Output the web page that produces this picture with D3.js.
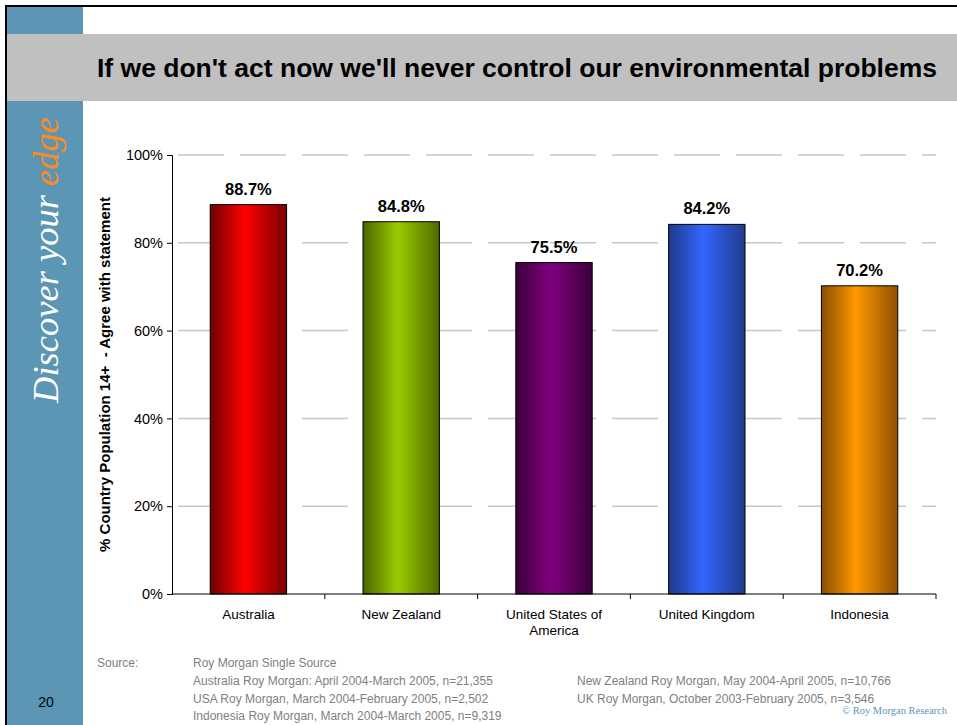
<!DOCTYPE html>
<html>
<head>
<meta charset="utf-8">
<script src="https://cdn.jsdelivr.net/npm/d3@7"></script>
<style>
  html, body { margin: 0; padding: 0; background: #fff; }
  svg { display: block; }
</style>
</head>
<body>
<svg id="slide" width="957" height="725"></svg>
<script>
// Chart data
const countries = ["Australia", "New Zealand", "United States of America", "United Kingdom", "Indonesia"];
const countryLines = [["Australia"], ["New Zealand"], ["United States of", "America"], ["United Kingdom"], ["Indonesia"]];
const agreePct = [88.7, 84.8, 75.5, 84.2, 70.2];
const yTicks = [0, 20, 40, 60, 80, 100];
// Bar colours: [left shade, bright centre, right shade]
const barColors = [
  ["#6e0000", "#ff0000", "#7a0000"],
  ["#4b6400", "#99cc00", "#4f6a00"],
  ["#3a003a", "#800080", "#3c003c"],
  ["#1d3a88", "#3366ff", "#1f3c8c"],
  ["#8a4c00", "#ff9900", "#8e5000"]
];
const sourceLeft = [
  "Roy Morgan Single Source",
  "Australia Roy Morgan: April 2004-March 2005, n=21,355",
  "USA Roy Morgan, March 2004-February 2005, n=2,502",
  "Indonesia Roy Morgan, March 2004-March 2005, n=9,319"
];
const sourceRight = [
  "New Zealand Roy Morgan, May 2004-April 2005, n=10,766",
  "UK Roy Morgan, October 2003-February 2005, n=3,546"
];

const svg = d3.select("#slide");
const W = 957, H = 725;
const blue = "#5b96b4";
const sans = "Liberation Sans, Arial, sans-serif";
const serif = "Liberation Serif, 'Times New Roman', serif";

// Slide frame: sidebar, title band, border
svg.append("rect").attr("x", 7).attr("y", 7).attr("width", 76).attr("height", H - 7).attr("fill", blue);
svg.append("rect").attr("x", 7).attr("y", 34).attr("width", W - 7).attr("height", 67).attr("fill", "#c0c0c0");
svg.append("line").attr("x1", 5).attr("x2", W).attr("y1", 6).attr("y2", 6).attr("stroke", "#000").attr("stroke-width", 2);
svg.append("line").attr("x1", 6).attr("x2", 6).attr("y1", 5).attr("y2", H).attr("stroke", "#000").attr("stroke-width", 2);

svg.append("text")
  .attr("x", 517).attr("y", 77)
  .attr("text-anchor", "middle")
  .attr("font-family", sans)
  .attr("font-weight", "bold").attr("font-size", 26)
  .attr("textLength", 840).attr("lengthAdjust", "spacingAndGlyphs")
  .attr("fill", "#000")
  .text("If we don't act now we'll never control our environmental problems");

// Vertical tagline
const tag = svg.append("text")
  .attr("transform", "translate(58,260) rotate(-90)")
  .attr("text-anchor", "middle")
  .attr("font-family", serif)
  .attr("font-style", "italic").attr("font-size", 36.5);
tag.append("tspan").attr("fill", "#fff").text("Discover your ");
tag.append("tspan").attr("fill", "#ff8a1e").text("edge");

svg.append("text")
  .attr("x", 46).attr("y", 707)
  .attr("text-anchor", "middle")
  .attr("font-family", sans)
  .attr("font-size", 14).attr("fill", "#000")
  .text("20");

// Chart
const plot = { left: 172, right: 936, top: 155, bottom: 594 };
const x = d3.scaleBand().domain(countries).range([plot.left, plot.right]).paddingInner(0.5).paddingOuter(0.25);
const y = d3.scaleLinear().domain([0, 100]).range([plot.bottom, plot.top]);

const defs = svg.append("defs");
barColors.forEach((c, i) => {
  const g = defs.append("linearGradient").attr("id", "bar" + i).attr("x1", "0").attr("x2", "1").attr("y1", "0").attr("y2", "0");
  g.append("stop").attr("offset", "0%").attr("stop-color", c[0]);
  g.append("stop").attr("offset", "45%").attr("stop-color", c[1]);
  g.append("stop").attr("offset", "100%").attr("stop-color", c[2]);
});

// Dashed gridlines
svg.append("g").selectAll("line").data(yTicks.filter(d => d > 0)).join("line")
  .attr("x1", plot.left + 6).attr("x2", plot.right)
  .attr("y1", d => y(d)).attr("y2", d => y(d))
  .attr("stroke", "#c8c8c8").attr("stroke-width", 1.5)
  .attr("stroke-dasharray", "46,16");

// Bars
svg.append("g").selectAll("rect").data(agreePct).join("rect")
  .attr("x", (d, i) => x(countries[i]))
  .attr("y", d => y(d))
  .attr("width", x.bandwidth())
  .attr("height", d => y(0) - y(d))
  .attr("fill", (d, i) => `url(#bar${i})`)
  .attr("stroke", "#000").attr("stroke-width", 1);

// Value labels
svg.append("g").selectAll("text").data(agreePct).join("text")
  .attr("x", (d, i) => x(countries[i]) + x.bandwidth() / 2)
  .attr("y", d => y(d) - 10)
  .attr("text-anchor", "middle")
  .attr("font-family", sans)
  .attr("font-weight", "bold").attr("font-size", 16.5)
  .text(d => d.toFixed(1) + "%");

// Y axis
const yAxis = svg.append("g").attr("transform", `translate(${plot.left},0)`)
  .call(d3.axisLeft(y).tickValues(yTicks).tickFormat(d => d + "%").tickSize(5).tickPadding(4));
yAxis.select(".domain").attr("stroke", "#000");
yAxis.selectAll(".tick line").attr("stroke", "#000");
yAxis.selectAll(".tick text")
  .attr("font-family", sans)
  .attr("font-size", 14.5).attr("fill", "#000");

// X axis: ticks at category boundaries
const xAxis = svg.append("g").attr("transform", `translate(0,${plot.bottom})`);
xAxis.append("line").attr("x1", plot.left).attr("x2", plot.right).attr("y1", 0).attr("y2", 0).attr("stroke", "#000");
const step = x.step();
const boundaries = countries.map((c, i) => x(c) - x.bandwidth() * 0.5 + step);
xAxis.selectAll("line.tk").data(boundaries).join("line").attr("class", "tk")
  .attr("x1", d => d).attr("x2", d => d).attr("y1", 0).attr("y2", 5).attr("stroke", "#000");
const xl = xAxis.selectAll("text").data(countries).join("text")
  .attr("x", c => x(c) + x.bandwidth() / 2)
  .attr("y", 25)
  .attr("text-anchor", "middle")
  .attr("font-family", sans)
  .attr("font-size", 13.5).attr("fill", "#000");
xl.each(function(c, i) {
  d3.select(this).selectAll("tspan").data(countryLines[i]).join("tspan")
    .attr("x", x(c) + x.bandwidth() / 2)
    .attr("dy", (d, j) => j === 0 ? 0 : 16)
    .text(d => d);
});

// Y axis title
svg.append("text")
  .attr("transform", `translate(110,${(plot.top + plot.bottom) / 2}) rotate(-90)`)
  .attr("text-anchor", "middle")
  .attr("font-family", sans)
  .attr("font-weight", "bold").attr("font-size", 15)
  .attr("xml:space", "preserve")
  .text("% Country Population 14+  - Agree with statement");

// Source notes
const src = svg.append("g")
  .attr("font-family", sans)
  .attr("font-size", 12).attr("fill", "#808080");
src.append("text").attr("x", 97).attr("y", 667).text("Source:");
src.selectAll("text.l").data(sourceLeft).join("text").attr("class", "l")
  .attr("x", 193).attr("y", (d, i) => 667 + i * 17.8).text(d => d);
src.selectAll("text.r").data(sourceRight).join("text").attr("class", "r")
  .attr("x", 577).attr("y", (d, i) => 685 + i * 17.8).text(d => d);

svg.append("text")
  .attr("x", 947).attr("y", 714)
  .attr("text-anchor", "end")
  .attr("font-family", serif)
  .attr("font-size", 10.5).attr("fill", blue)
  .text("© Roy Morgan Research");
</script>
</body>
</html>
